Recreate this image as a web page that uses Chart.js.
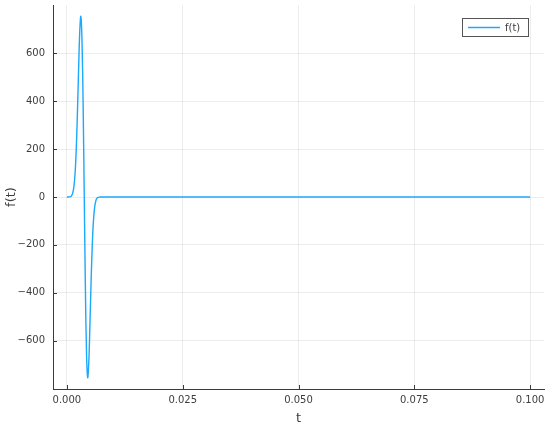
<!DOCTYPE html>
<html>
<head>
<meta charset="utf-8">
<script src="https://cdn.jsdelivr.net/npm/chart.js@4/dist/chart.umd.min.js"></script>
<style>
  html, body { margin: 0; padding: 0; background: #fff; }
  #wrap { width: 550px; height: 426px; position: relative; }
</style>
</head>
<body>
<div id="wrap"><canvas id="c"></canvas></div>
<script>
// dữ liệu
const tValues = [0, 0.00025, 0.0005, 0.00075, 0.001, 0.00125, 0.0015, 0.00175, 0.002, 0.00225,
  0.0025, 0.00275, 0.003, 0.00325, 0.0035, 0.00375, 0.004, 0.00425, 0.0045, 0.00475,
  0.005, 0.00525, 0.0055, 0.00575, 0.006, 0.00625, 0.0065, 0.00675, 0.007, 0.00725,
  0.0075, 0.01, 0.1];
const fValues = [0, 0.1, 0.4, 1.7, 5, 16, 41, 94, 190, 335,
  514, 680, 755, 662, 392, 0, -392, -662, -755, -680,
  -514, -335, -190, -94, -41, -16, -5, -1.7, -0.4, -0.1,
  0, 0, 0];
const xTicks = [0, 0.025, 0.05, 0.075, 0.1];
const yTicks = [-600, -400, -200, 0, 200, 400, 600];
const seriesName = 'f(t)';

const lineColor = '#1ca8fb';
const axisColor = '#3a3a3a';
const textColor = '#3d3d3d';

// tick nhỏ vẽ vào trong trục + chú thích kiểu Plots
const innerTicks = {
  id: 'innerTicks',
  afterDraw(chart) {
    const ctx = chart.ctx;
    const a = chart.chartArea;
    const xs = chart.scales.x, ys = chart.scales.y;
    ctx.save();
    ctx.strokeStyle = axisColor;
    ctx.lineWidth = 1;
    ctx.beginPath();
    xTicks.forEach(v => {
      const px = Math.round(xs.getPixelForValue(v)) + 0.5;
      ctx.moveTo(px, a.bottom);
      ctx.lineTo(px, a.bottom - 4);
    });
    yTicks.forEach(v => {
      const py = Math.round(ys.getPixelForValue(v)) + 0.5;
      ctx.moveTo(a.left, py);
      ctx.lineTo(a.left + 4, py);
    });
    ctx.stroke();

    // legend
    const bx = 462.5, by = 18.5, bw = 66, bh = 18;
    ctx.fillStyle = '#fff';
    ctx.fillRect(bx, by, bw, bh);
    ctx.strokeStyle = '#555';
    ctx.strokeRect(bx, by, bw, bh);
    ctx.strokeStyle = lineColor;
    ctx.lineWidth = 1.5;
    ctx.beginPath();
    ctx.moveTo(468, by + bh / 2);
    ctx.lineTo(500, by + bh / 2);
    ctx.stroke();
    ctx.fillStyle = textColor;
    ctx.font = '10px "DejaVu Sans"';
    ctx.textBaseline = 'middle';
    ctx.fillText(chart.data.datasets[0].label, 505, by + bh / 2 + 0.5);
    ctx.restore();
  }
};

new Chart(document.getElementById('c'), {
  type: 'line',
  data: {
    datasets: [{
      label: seriesName,
      data: tValues.map((t, i) => ({ x: t, y: fValues[i] })),
      borderColor: lineColor,
      borderWidth: 1.4,
      pointRadius: 0,
      tension: 0.3,
      fill: false
    }]
  },
  options: {
    responsive: true, maintainAspectRatio: false,
    animation: false,
    layout: { padding: { top: 5, right: 6, left: 0, bottom: 0 } },
    plugins: { legend: { display: false }, tooltip: { enabled: false } },
    scales: {
      x: {
        type: 'linear', min: -0.003, max: 0.103,
        afterBuildTicks: s => { s.ticks = xTicks.map(v => ({ value: v })); },
        afterFit: s => { s.height = 37; },
        grid: { color: 'rgba(0,0,0,0.07)', drawTicks: false },
        border: { color: axisColor, width: 1 },
        ticks: {
          color: textColor, padding: 5, maxRotation: 0,
          font: { family: 'DejaVu Sans', size: 10 },
          callback: v => v.toFixed(3)
        },
        title: { display: true, text: 't', color: textColor, padding: { top: 2, bottom: 0 },
          font: { family: 'DejaVu Sans', size: 13 } }
      },
      y: {
        type: 'linear', min: -802, max: 802,
        afterBuildTicks: s => { s.ticks = yTicks.map(v => ({ value: v })); },
        afterFit: s => { s.width = 53; s.paddingTop = 0; s.paddingBottom = 0; },
        grid: { color: 'rgba(0,0,0,0.07)', drawTicks: false },
        border: { color: axisColor, width: 1 },
        ticks: {
          color: textColor, padding: 8,
          font: { family: 'DejaVu Sans', size: 10 },
          callback: v => v.toString().replace('-', '\u2212')
        },
        title: { display: true, text: 'f(t)', color: textColor, padding: { top: 4, bottom: 0 },
          font: { family: 'DejaVu Sans', size: 13 } }
      }
    }
  },
  plugins: [innerTicks]
});
</script>
</body>
</html>
